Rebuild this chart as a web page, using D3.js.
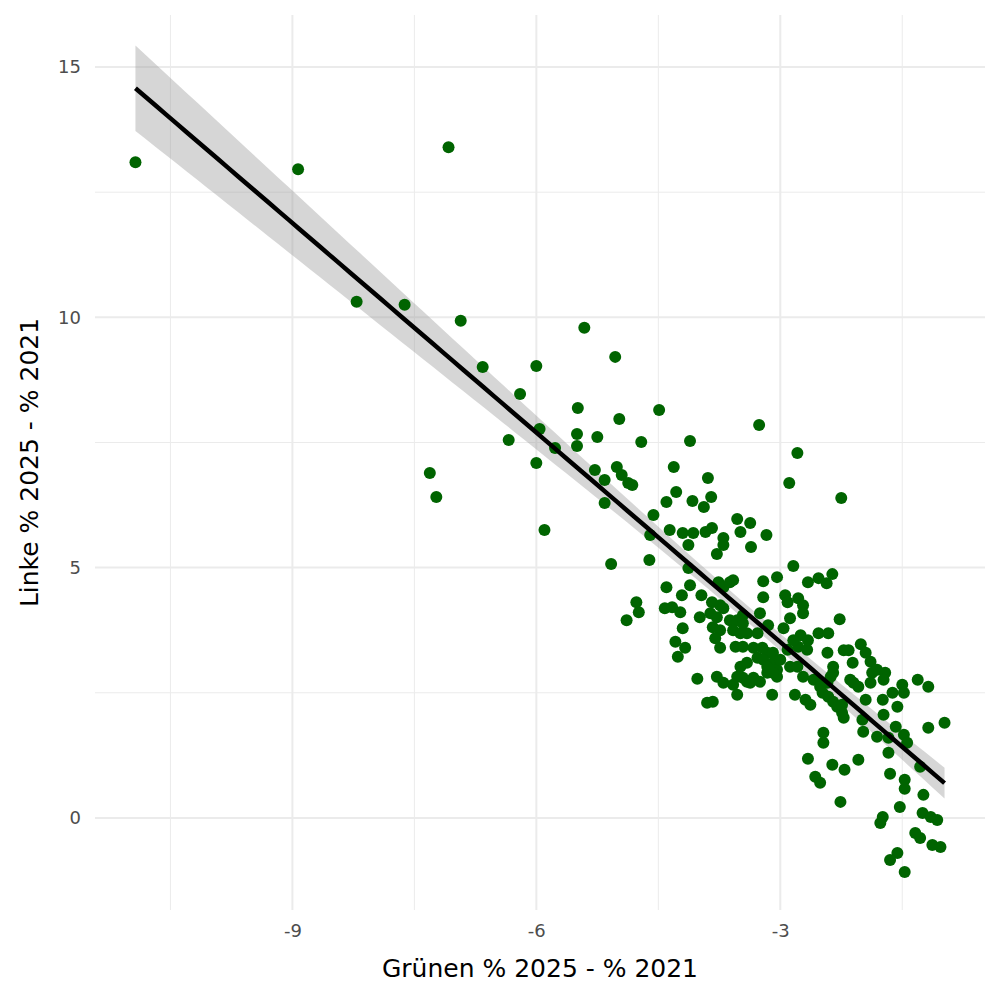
<!DOCTYPE html>
<html><head><meta charset="utf-8">
<script src="https://cdn.jsdelivr.net/npm/d3@7"></script>
<style>body{margin:0;background:#fff}</style></head>
<body><svg id="c" width="1000" height="1000"></svg>
<script>
const xTicks=[-9,-6,-3], xMinor=[-10.5,-7.5,-4.5,-1.5];
const yTicks=[0,5,10,15], yMinor=[2.5,7.5,12.5];
const xTitle="Grünen % 2025 - % 2021", yTitle="Linke % 2025 - % 2021";
const points=[
[-10.93,13.10],[-8.93,12.96],[-7.08,13.40],[-8.21,10.31],[-7.62,10.25],[-6.93,9.93],[-6.66,9.01],[-7.31,6.89],[-7.23,6.41],[-6.20,8.47],[-6.34,7.55],[-6.00,9.03],[-5.96,7.77],[-6.00,7.09],[-5.77,7.39],[-5.41,9.79],[-5.03,9.21],[-5.49,8.19],[-5.90,5.75],
[-4.98,7.97],[-4.49,8.15],[-5.25,7.61],[-4.71,7.51],[-4.11,7.53],[-5.50,7.67],[-5.50,7.43],[-5.28,6.95],[-5.16,6.75],[-5.01,7.01],[-4.95,6.85],[-4.87,6.69],[-4.82,6.65],[-4.31,7.01],[-3.89,6.79],[-4.28,6.51],[-3.85,6.41],[-4.40,6.31],[-4.08,6.33],[-3.94,6.21],[-5.16,6.29],[-4.56,6.05],[-3.53,5.97],[-3.37,5.89],[-3.49,5.71],[-3.17,5.65],[-3.36,5.41],[-4.36,5.75],[-4.20,5.69],[-4.07,5.69],[-3.92,5.71],[-3.84,5.79],[-4.13,5.45],[-3.70,5.59],[-3.70,5.45],[-3.78,5.27],[-4.60,5.65],[-5.08,5.07],[-4.61,5.15],[-4.13,4.99],[-4.40,4.61],[-4.11,4.65],[-4.21,4.45],[-3.97,4.45],[-3.76,4.71],[-3.62,4.71],[-3.58,4.75],[-3.21,4.73],[-3.21,4.41],[-3.04,4.81],[-3.70,4.61],[-4.77,4.31],[-4.74,4.11],[-4.89,3.95],[-4.42,4.19],[-4.33,4.21],[-4.23,4.11],[-3.99,4.01],[-3.84,4.31],[-3.74,4.25],[-3.86,4.09],[-3.78,4.01],[-3.70,4.19],[-3.62,3.95],[-3.53,3.95],[-3.46,3.89],[-3.25,4.09],[-3.83,3.81],[-3.74,3.75],[-3.58,3.75],[-3.49,3.69],[-3.41,3.69],[-3.28,3.69],[-4.20,3.79],[-4.29,3.52],[-4.17,3.40],[-4.26,3.22],[-3.80,3.59],[-3.74,3.40],[-3.55,3.42],[-3.46,3.42],[-3.33,3.40],[-3.22,3.40],[-3.16,3.30],[-3.49,3.02],[-3.41,3.10],[-3.28,3.20],[-3.21,3.16],[-3.09,3.10],[-3.04,2.96],[-3.53,2.82],[-3.46,2.80],[-3.33,2.80],[-3.78,2.82],[-3.70,2.70],[-3.58,2.66],[-3.41,2.72],[-4.02,2.78],[-3.90,2.30],[-3.83,2.32],[-3.53,2.46],[-3.25,2.72],[-3.16,2.90],[-3.10,2.46],[-3.04,2.82],
[-3.46,4.05],[-3.15,3.85],[-2.91,3.36],[-2.78,3.42],[-2.67,3.36],[-3.09,3.30],[-3.00,3.16],[-2.88,3.02],[-2.79,3.02],[-3.16,3.02],[-3.37,2.70],[-3.09,2.90],[-2.72,2.82],[-2.59,2.76],[-2.51,2.70],[-2.51,2.62],[-2.42,2.70],[-2.82,2.46],[-2.69,2.36],[-2.63,2.26],[-2.48,2.50],[-2.41,2.42],[-2.35,2.32],[-2.30,2.22],[-2.24,2.10],[-2.38,2.82],[-2.35,2.90],
[-3.26,7.85],[-2.79,7.29],[-2.89,6.69],[-2.25,6.39],[-2.84,5.03],[-2.94,4.45],[-2.91,4.31],[-2.78,4.39],[-2.72,4.25],[-2.72,4.09],[-2.66,4.71],[-2.53,4.79],[-2.43,4.69],[-2.36,4.87],[-2.88,3.99],[-2.96,3.79],[-2.27,3.97],[-2.53,3.69],[-2.41,3.69],[-2.75,3.65],[-2.66,3.55],[-2.84,3.55],[-2.22,3.35],[-2.16,3.35],[-2.01,3.47],[-1.95,3.30],[-2.42,3.30],[-2.35,3.02],[-2.11,3.10],[-1.89,3.12],[-1.87,2.90],[-1.81,2.96],[-1.71,2.90],[-1.73,2.76],[-1.89,2.70],[-2.10,2.70],[-2.04,2.62],[-2.14,2.76],[-1.50,2.66],[-1.31,2.76],[-1.18,2.62],[-1.48,2.50],[-1.62,2.50],[-1.74,2.36],[-1.56,2.22],[-1.73,2.06],[-1.95,2.36],[-2.24,2.26],[-2.22,2.00],[-1.99,1.96],[-1.98,1.72],[-1.81,1.62],[-1.67,1.60],[-1.58,1.82],[-1.48,1.66],[-1.44,1.50],[-1.28,1.02],[-1.18,1.80],[-0.98,1.90],[-2.47,1.70],[-2.47,1.50],[-2.66,1.18],[-2.57,0.82],[-2.51,0.70],[-2.36,1.06],[-2.21,0.96],[-2.04,1.16],[-2.26,0.32],[-1.67,1.30],[-1.65,0.88],[-1.47,0.76],[-1.47,0.58],[-1.24,0.46],[-1.53,0.22],[-1.74,0.02],[-1.77,-0.10],[-1.25,0.10],[-1.15,0.02],[-1.07,-0.04],[-1.34,-0.30],[-1.28,-0.40],[-1.13,-0.54],[-1.03,-0.58],[-1.56,-0.70],[-1.65,-0.84],[-1.47,-1.08]
];
const svg=d3.select("#c");
const L=95,R=985,T=15,B=910;
const xExt=d3.extent(points,d=>d[0]);
const xPad=(xExt[1]-xExt[0])*0.05;
const x=d3.scaleLinear().domain([xExt[0]-xPad,xExt[1]+xPad]).range([L,R]);
const y=d3.scaleLinear().domain([-1.84,16.04]).range([B,T]);
const g=svg.append("g");
xMinor.forEach(v=>g.append("line").attr("x1",x(v)).attr("x2",x(v)).attr("y1",T).attr("y2",B).attr("stroke","#EBEBEB").attr("stroke-width",1));
yMinor.forEach(v=>g.append("line").attr("y1",y(v)).attr("y2",y(v)).attr("x1",L).attr("x2",R).attr("stroke","#EBEBEB").attr("stroke-width",1));
xTicks.forEach(v=>g.append("line").attr("x1",x(v)).attr("x2",x(v)).attr("y1",T).attr("y2",B).attr("stroke","#EBEBEB").attr("stroke-width",2));
yTicks.forEach(v=>g.append("line").attr("y1",y(v)).attr("y2",y(v)).attr("x1",L).attr("x2",R).attr("stroke","#EBEBEB").attr("stroke-width",2));
const n=points.length, mx=d3.mean(points,d=>d[0]), my=d3.mean(points,d=>d[1]);
const Sxx=d3.sum(points,d=>(d[0]-mx)**2), Sxy=d3.sum(points,d=>(d[0]-mx)*(d[1]-my));
const b=Sxy/Sxx, a=my-b*mx;
const s=Math.sqrt(d3.sum(points,d=>(d[1]-a-b*d[0])**2)/(n-2));
const grid=d3.range(80).map(i=>xExt[0]+(xExt[1]-xExt[0])*i/79);
const band=grid.map(v=>{const se=s*Math.sqrt(1/n+(v-mx)**2/Sxx);const f=a+b*v;return [v,f-1.97*se,f+1.97*se];});
g.append("path").datum(band).attr("d",d3.area().x(d=>x(d[0])).y0(d=>y(d[1])).y1(d=>y(d[2]))).attr("fill","#999").attr("opacity",0.4);
g.selectAll("circle").data(points).join("circle").attr("cx",d=>x(d[0])).attr("cy",d=>y(d[1])).attr("r",6).attr("fill","#006400");
g.append("path").datum(grid).attr("d",d3.line().x(d=>x(d)).y(d=>y(a+b*d))).attr("stroke","#000").attr("stroke-width",4.5).attr("fill","none");
const fmt=d=>String(d);
const xa=svg.append("g").attr("transform",`translate(0,${B})`).call(d3.axisBottom(x).tickValues(xTicks).tickSize(0).tickPadding(14).tickFormat(fmt));
const ya=svg.append("g").attr("transform",`translate(${L},0)`).call(d3.axisLeft(y).tickValues(yTicks).tickSize(0).tickPadding(14).tickFormat(fmt));
[xa,ya].forEach(a=>{a.select(".domain").remove();a.selectAll("text").attr("font-family","DejaVu Sans").attr("font-size",18).attr("fill","#4D4D4D");});
svg.append("text").attr("x",540).attr("y",977).attr("text-anchor","middle").attr("font-family","DejaVu Sans").attr("font-size",25).text(xTitle);
svg.append("text").attr("transform",`translate(38,${(T+B)/2}) rotate(-90)`).attr("text-anchor","middle").attr("font-family","DejaVu Sans").attr("font-size",25).text(yTitle);
</script></body></html>
